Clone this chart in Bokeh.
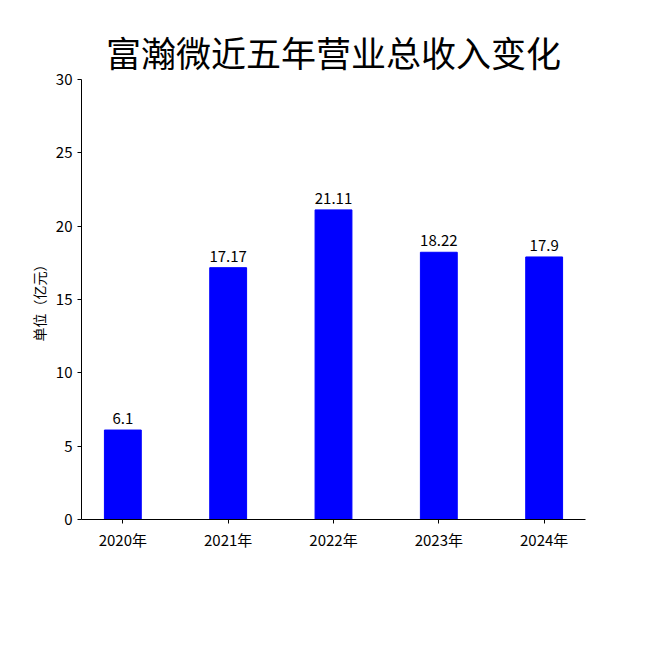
from bokeh.plotting import figure
from bokeh.models import Range1d, FixedTicker, ColumnDataSource, Title
from bokeh.embed import file_html
from bokeh.resources import INLINE
from bokeh.core.properties import value

years = ["2020年", "2021年", "2022年", "2023年", "2024年"]
revenue = [6.1, 17.17, 21.11, 18.22, 17.9]
labels = ["6.1", "17.17", "21.11", "18.22", "17.9"]
y_ticks = [0, 5, 10, 15, 20, 25, 30]

xs = list(range(len(years)))
src = ColumnDataSource(dict(x=xs, top=revenue, lab=labels))

FONT = "Noto Sans CJK SC"

p = figure(width=634, height=634, output_backend="svg", toolbar_location=None,
           x_range=Range1d(-0.3925, 4.3925), y_range=Range1d(0, 30),
           min_border_left=81, min_border_right=49, min_border_top=79, min_border_bottom=115)
p.title = Title(text="富瀚微近五年营业总收入变化", align="center", text_font=FONT,
                text_font_size="35px", text_font_style="normal", text_color="black",
                standoff=6)

p.vbar(x="x", top="top", width=0.35, bottom=0, source=src, color="#0000FF")
p.text(x="x", y="top", text="lab", source=src, text_align="center", text_baseline="bottom",
       y_offset=-6, text_font=value(FONT), text_font_size="15px", text_color="black")

p.xgrid.visible = False
p.ygrid.visible = False
p.outline_line_color = None

p.xaxis.ticker = FixedTicker(ticks=xs)
p.xaxis.major_label_overrides = {i: y for i, y in enumerate(years)}
p.yaxis.ticker = FixedTicker(ticks=y_ticks)
for ax in (p.xaxis, p.yaxis):
    ax.major_label_text_font = FONT
    ax.major_label_text_font_size = "15px"
    ax.major_label_text_color = "black"
    ax.axis_line_color = "black"
    ax.major_tick_line_color = "black"
    ax.major_tick_in = 0
    ax.major_tick_out = 4
    ax.minor_tick_line_color = None
p.yaxis.axis_label = "单位（亿元）"
p.yaxis.axis_label_text_font = FONT
p.yaxis.axis_label_text_font_size = "14px"
p.yaxis.axis_label_text_font_style = "normal"
p.yaxis.axis_label_text_color = "black"
p.yaxis.axis_label_standoff = 4

open("out.html", "w").write(file_html(p, INLINE))
